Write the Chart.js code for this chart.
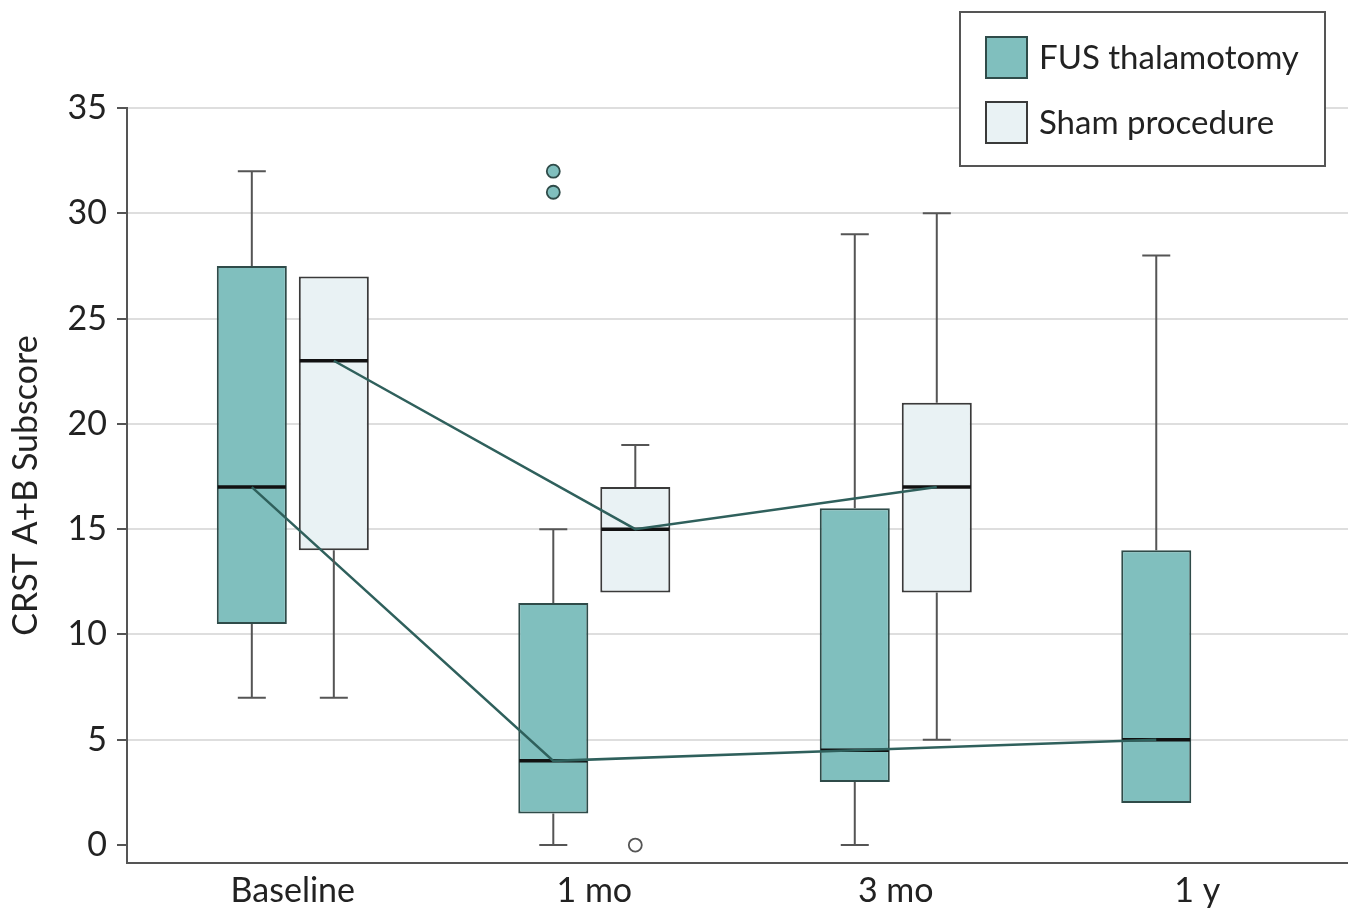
<!DOCTYPE html>
<html>
<head>
<meta charset="utf-8">
<script src="https://cdn.jsdelivr.net/npm/chart.js@4"></script>
<style>
html,body{margin:0;padding:0;background:#fff}
canvas{display:block}
</style>
</head>
<body>
<canvas id="chartCrst" width="1348" height="915"></canvas>
<script>
// --- datos ---
var categorias=['Baseline','1 mo','3 mo','1 y'];
var yTicks=[0,5,10,15,20,25,30,35];

var fusMin=[7,0,0,2];
var fusQ1=[10.5,1.5,3,2];
var fusMediana=[17,4,4.5,5];
var fusQ3=[27.5,11.5,16,14];
var fusMax=[32,15,29,28];
var fusOutliers=[[],[31,32],[],[]];

var shamMin=[7,12,5];
var shamQ1=[14,12,12];
var shamMediana=[23,15,17];
var shamQ3=[27,17,21];
var shamMax=[27,19,30];
var shamOutliers=[[],[0],[]];

var FUENTE='Lato, "Open Sans", sans-serif';
var colFus='#80bfbe',colFusBorde='#2f4b49',colSham='#e9f2f4',colShamBorde='#3a3a3a';

function cajas(q1,q3){
  return q1.map(function(v,i){return {x:i,y:[v,q3[i]]};});
}

// whiskers, medianas, outliers y lineas que unen medianas
var boxPlugin={
  id:'boxExtras',
  afterDatasetsDraw:function(chart){
    var ctx=chart.ctx,ys=chart.scales.y;
    chart.data.datasets.forEach(function(ds,di){
      var meta=chart.getDatasetMeta(di),st=ds.stats;
      ctx.save();
      meta.data.forEach(function(bar,i){
        var x=bar.x,w=bar.width,cap=w*0.4;
        var yq1=ys.getPixelForValue(st.q1[i]),yq3=ys.getPixelForValue(st.q3[i]);
        var ymin=ys.getPixelForValue(st.min[i]),ymax=ys.getPixelForValue(st.max[i]);
        ctx.strokeStyle='#555';ctx.lineWidth=2;
        ctx.beginPath();
        if(st.max[i]>st.q3[i]){ctx.moveTo(x,yq3);ctx.lineTo(x,ymax);ctx.moveTo(x-cap/2,ymax);ctx.lineTo(x+cap/2,ymax);}
        if(st.min[i]<st.q1[i]){ctx.moveTo(x,yq1);ctx.lineTo(x,ymin);ctx.moveTo(x-cap/2,ymin);ctx.lineTo(x+cap/2,ymin);}
        ctx.stroke();
        var ym=ys.getPixelForValue(st.median[i]);
        ctx.strokeStyle='#111';ctx.lineWidth=3.5;
        ctx.beginPath();ctx.moveTo(x-w/2+1,ym);ctx.lineTo(x+w/2-1,ym);ctx.stroke();
        st.outliers[i].forEach(function(v){
          ctx.beginPath();ctx.arc(x,ys.getPixelForValue(v),6.5,0,Math.PI*2);
          ctx.fillStyle=ds.outlierFill;ctx.fill();
          ctx.strokeStyle=ds.outlierBorde;ctx.lineWidth=1.8;ctx.stroke();
        });
      });
      ctx.strokeStyle='#2f605c';ctx.lineWidth=2.5;
      ctx.beginPath();
      meta.data.forEach(function(bar,i){
        var ym=ys.getPixelForValue(st.median[i]);
        if(i===0)ctx.moveTo(bar.x,ym);else ctx.lineTo(bar.x,ym);
      });
      ctx.stroke();
      ctx.restore();
    });
  },
  afterDraw:function(chart){
    // leyenda con recuadro, arriba a la derecha
    var ctx=chart.ctx,o=chart.options.plugins.boxExtras;
    ctx.save();
    ctx.fillStyle='#fff';ctx.fillRect(o.x,o.y,o.w,o.h);
    ctx.strokeStyle='#555';ctx.lineWidth=2;ctx.strokeRect(o.x,o.y,o.w,o.h);
    ctx.font='33px '+FUENTE;ctx.textBaseline='middle';ctx.fillStyle='#222';
    chart.data.datasets.forEach(function(ds,i){
      var cy=o.y+45+i*65;
      ctx.fillStyle=ds.backgroundColor;ctx.fillRect(o.x+26,cy-20,41,41);
      ctx.strokeStyle=ds.borderColor;ctx.lineWidth=2;ctx.strokeRect(o.x+26,cy-20,41,41);
      ctx.fillStyle='#222';ctx.fillText(ds.label,o.x+79,cy+1);
    });
    ctx.restore();
  }
};

var chartCrst=new Chart(document.getElementById('chartCrst'),{
  type:'bar',
  data:{
    datasets:[
      {label:'FUS thalamotomy',data:cajas(fusQ1,fusQ3),backgroundColor:colFus,borderColor:colFusBorde,borderWidth:2,borderSkipped:false,
       outlierFill:colFus,outlierBorde:colFusBorde,
       stats:{min:fusMin,q1:fusQ1,median:fusMediana,q3:fusQ3,max:fusMax,outliers:fusOutliers}},
      {label:'Sham procedure',data:cajas(shamQ1,shamQ3),backgroundColor:colSham,borderColor:colShamBorde,borderWidth:2,borderSkipped:false,
       outlierFill:'#fff',outlierBorde:'#555',
       stats:{min:shamMin,q1:shamQ1,median:shamMediana,q3:shamQ3,max:shamMax,outliers:shamOutliers}}
    ]
  },
  options:{
    responsive:false,
    animation:false,
    categoryPercentage:0.544,
    barPercentage:0.854,
    layout:{padding:{top:108,right:0,bottom:0,left:0}},
    plugins:{
      legend:{display:false},
      tooltip:{enabled:false},
      boxExtras:{x:960,y:12,w:365,h:154}
    },
    scales:{
      x:{
        type:'linear',min:-0.55,max:3.5,offset:false,
        afterBuildTicks:function(s){s.ticks=categorias.map(function(c,i){return {value:i};});},
        afterFit:function(s){s.height=52;},
        grid:{display:false,drawTicks:false,offset:false},
        border:{display:true,color:'#555',width:2},
        ticks:{padding:8,color:'#222',font:{family:FUENTE,size:34},maxRotation:0,autoSkip:false,
          callback:function(v){return categorias[v];}}
      },
      y:{
        min:-0.85,max:35,
        afterBuildTicks:function(s){s.ticks=yTicks.map(function(v){return {value:v};});},
        afterFit:function(s){s.width=127;},
        grid:{color:function(c){return c.tick&&c.tick.value===0?'rgba(0,0,0,0)':'#dedede';},lineWidth:2,tickLength:10,tickColor:'#555',tickWidth:2},
        border:{display:true,color:'#555',width:2},
        ticks:{padding:10,color:'#222',font:{family:FUENTE,size:34}},
        title:{display:true,text:'CRST A+B Subscore',color:'#222',font:{family:FUENTE,size:34},padding:{top:6,bottom:0}}
      }
    }
  },
  plugins:[boxPlugin]
});
</script>
</body>
</html>
